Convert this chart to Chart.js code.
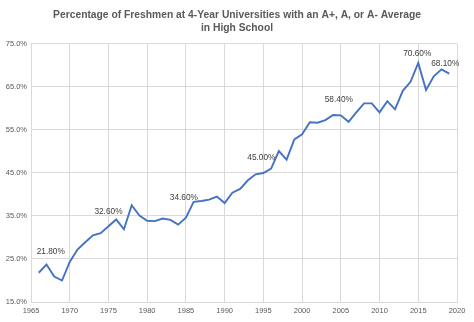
<!DOCTYPE html>
<html lang="en">
<head>
    <meta charset="UTF-8">
    <title>Freshmen A Average Chart</title>
    <script src="https://cdn.jsdelivr.net/npm/chart.js"></script>
    <style>
        body, html {
            margin: 0;
            padding: 0;
            background: #ffffff;
            overflow: hidden;
        }
        canvas {
            display: block;
        }
    </style>
</head>
<body>
    <canvas id="gradeChart" width="474" height="322"></canvas>

    <script>
        const years = [
            1966, 1967, 1968, 1969, 1970, 1971, 1972, 1973, 1974, 1975,
            1976, 1977, 1978, 1979, 1980, 1981, 1982, 1983, 1984, 1985,
            1986, 1987, 1988, 1989, 1990, 1991, 1992, 1993, 1994, 1995,
            1996, 1997, 1998, 1999, 2000, 2001, 2002, 2003, 2004, 2005,
            2006, 2007, 2008, 2009, 2010, 2011, 2012, 2013, 2014, 2015,
            2016, 2017, 2018, 2019
        ];
        const percentA = [
            21.8, 23.7, 20.9, 20.0, 24.3, 27.2, 28.9, 30.5, 31.0, 32.6,
            34.2, 31.9, 37.5, 35.1, 33.9, 33.8, 34.4, 34.1, 33.0, 34.6,
            38.3, 38.5, 38.8, 39.5, 38.0, 40.4, 41.3, 43.3, 44.7, 45.0,
            46.0, 50.1, 48.1, 52.8, 54.0, 56.8, 56.7, 57.3, 58.5, 58.4,
            56.9, 59.1, 61.2, 61.2, 59.1, 61.7, 59.8, 64.1, 66.2, 70.6,
            64.3, 67.5, 69.1, 68.1
        ];
        // years that get a value label
        const labelledYears = [1966, 1975, 1985, 1995, 2005, 2015, 2019];
        const titleLines = [
            'Percentage of Freshmen at 4-Year Universities with an A+, A, or A- Average',
            'in High School'
        ];

        // label nudges (dx, dy) from the point, same order as labelledYears
        const labelNudge = [[12, -21], [0, -15], [-2, -20], [-2, -15], [-2, -16], [-1, -9], [-4, -10]];

        const valueLabels = {
            id: 'valueLabels',
            afterDatasetsDraw(chart) {
                const ctx = chart.ctx;
                const meta = chart.getDatasetMeta(0);
                ctx.save();
                ctx.font = '8.3px "Liberation Sans", Arial, sans-serif';
                ctx.fillStyle = '#404040';
                ctx.textAlign = 'center';
                ctx.textBaseline = 'middle';
                labelledYears.forEach((yr, k) => {
                    const i = years.indexOf(yr);
                    const pt = meta.data[i];
                    ctx.fillText(percentA[i].toFixed(2) + '%', pt.x + labelNudge[k][0], pt.y + labelNudge[k][1]);
                });
                ctx.restore();
            }
        };

        const gridColor = '#d9d9d9';
        const tickFont = { family: '"Liberation Sans", Arial, sans-serif', size: 7.5 };

        new Chart(document.getElementById('gradeChart'), {
            type: 'line',
            data: {
                datasets: [{
                    data: years.map((yr, i) => ({ x: yr, y: percentA[i] })),
                    borderColor: '#4472c4',
                    borderWidth: 1.9,
                    pointRadius: 0,
                    tension: 0,
                    fill: false
                }]
            },
            options: {
                responsive: false,
                animation: false,
                devicePixelRatio: 1,
                layout: { padding: 0 },
                scales: {
                    x: {
                        type: 'linear',
                        min: 1965,
                        max: 2020,
                        afterFit(scale) { scale.height = 20; },
                        ticks: {
                            stepSize: 5,
                            color: '#595959',
                            font: tickFont,
                            padding: 4,
                            maxRotation: 0,
                            callback: v => String(v)
                        },
                        grid: { color: gridColor, drawTicks: false },
                        border: { color: gridColor }
                    },
                    y: {
                        min: 15,
                        max: 75,
                        afterFit(scale) { scale.width = 31; },
                        ticks: {
                            stepSize: 10,
                            color: '#595959',
                            font: tickFont,
                            padding: 4,
                            callback: v => v.toFixed(1) + '%'
                        },
                        grid: { color: gridColor, drawTicks: false },
                        border: { color: gridColor }
                    },
                    // empty right-hand spacer so the title stays centred on the full width
                    spacer: {
                        position: 'right',
                        afterFit(scale) { scale.width = 17; },
                        ticks: { display: false },
                        grid: { display: false },
                        border: { display: false }
                    }
                },
                plugins: {
                    legend: { display: false },
                    tooltip: { enabled: false },
                    title: {
                        display: true,
                        text: titleLines,
                        color: '#595959',
                        font: {
                            family: '"Liberation Sans", Arial, sans-serif',
                            size: 10.3,
                            weight: 'bold',
                            lineHeight: 1.31
                        },
                        padding: { top: 8, bottom: 9 }
                    }
                }
            },
            plugins: [valueLabels]
        });
    </script>
</body>
</html>
